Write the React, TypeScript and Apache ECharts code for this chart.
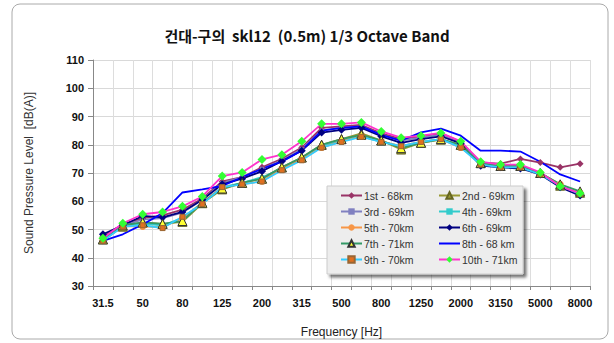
import React, { useEffect, useRef } from "react";
import * as echarts from "echarts";

const categories = ["31.5","40","50","63","80","100","125","160","200","250","315","400","500","630","800","1000","1250","1600","2000","2500","3150","4000","5000","6300","8000"];

const s1 = [47.5, 51.8, 54, 55, 57, 61, 67, 68.5, 72, 75, 79, 86, 86.5, 87, 84, 82, 83, 84, 81, 73.7, 73.3, 75, 73.7, 72, 73.3];
const s2 = [46.5, 51, 52.5, 52, 52.7, 59.3, 64.2, 66.5, 68, 72, 75.5, 80, 82, 84, 81.5, 78.3, 80.7, 81.8, 80, 73.5, 72.5, 72.5, 70, 65.5, 63];
const s3 = [47, 51.5, 53.5, 54, 56, 60.5, 66.5, 68.5, 71.5, 74.5, 78.5, 85, 86, 86.5, 83.5, 81.5, 82.5, 83.5, 80.8, 73.5, 72.8, 72.5, 70, 65.5, 62.5];
const s4 = [46.5, 51, 52, 51.5, 54, 59.5, 65, 66.5, 68.5, 71.5, 75, 79.5, 81.5, 83, 81, 79.5, 81, 82, 79.5, 73, 72.5, 72.5, 69.8, 65.5, 63];
const s5 = [46, 51.1, 51.1, 50.8, 54, 59.5, 65, 66, 67.1, 71.6, 75, 79, 81.2, 83, 81.2, 79.5, 81, 82, 79, 73.5, 72.5, 72.5, 70, 66, 63];
const s6 = [48.3, 51.5, 54.8, 54.3, 56.2, 60.5, 66, 68, 70.6, 74.2, 77.9, 84.3, 85.3, 86, 83, 80.7, 82, 83, 80.5, 72.6, 72, 71.6, 69.5, 65, 62];
const s7 = [46.5, 51.5, 52.5, 52, 53, 59.5, 64.5, 66.5, 68, 72, 75.5, 80, 82, 83.5, 81.5, 78.8, 80.7, 82, 80, 73.5, 72.5, 72.5, 70, 66, 63.5];
const s8 = [46, 48.3, 51.8, 55.8, 63.1, 64.2, 65.4, 68.5, 71.5, 74, 78, 85, 86, 86.5, 83.5, 81.5, 84.4, 85.7, 83.2, 77.9, 77.9, 77.6, 74, 69.5, 67];
const s9 = [46, 51, 51.5, 50.5, 54.5, 59, 65, 66, 67, 71, 74.5, 79, 81, 82.8, 81, 79.5, 81, 82, 79, 73, 72, 72, 69.5, 65.5, 62.5];
const s10 = [46.9, 52.2, 55.4, 56.2, 58.2, 61.7, 68.9, 70.2, 74.8, 76.5, 81.2, 87.4, 87.4, 87.9, 84.7, 82.5, 83.2, 84.2, 81.2, 74, 73, 73, 70.2, 65.3, 62.8];

const names = ["1st - 68km","2nd - 69km","3rd - 69km","4th - 69km","5th - 70km","6th - 69km","7th - 71km","8th - 68 km","9th - 70km","10th - 71km"];
const yTicks = { min: 30, max: 110, interval: 10 };

export default function App() {
  const ref = useRef<HTMLDivElement>(null);
  useEffect(() => {
    document.body.style.margin = "0";
    const chart = echarts.init(ref.current!, null, { renderer: "svg" });
    const mk = (name: string, data: number[], line: string, symbol: string, size: number, fill: string, border?: string) => ({
      name,
      type: "line",
      data,
      symbol,
      symbolSize: size,
      showSymbol: symbol !== "none",
      lineStyle: { color: line, width: 1.8 },
      itemStyle: { color: fill, borderColor: border || fill, borderWidth: border ? 1 : 0 },
      emphasis: { disabled: true },
    });
    const series = [
      mk(names[0], s1, "#993366", "diamond", 7, "#993366"),
      mk(names[1], s2, "#999933", "triangle", 9, "#999933", "#666622"),
      mk(names[2], s3, "#8080c0", "rect", 4, "#8080c0"),
      mk(names[3], s4, "#33cccc", "rect", 4, "#33cccc"),
      mk(names[4], s5, "#f79646", "circle", 7, "#f79646"),
      mk(names[5], s6, "#000080", "diamond", 8, "#000080"),
      mk(names[6], s7, "#339966", "triangle", 9, "#ffff33", "#333333"),
      mk(names[7], s8, "#0000ff", "none", 0, "#0000ff"),
      mk(names[8], s9, "#33ccff", "rect", 5, "#e07020", "#996633"),
      mk(names[9], s10, "#ff33cc", "diamond", 9, "#33ff33"),
    ];
    const legendBase = {
      orient: "vertical",
      top: 190,
      padding: 0,
      itemGap: 5,
      itemWidth: 21,
      itemHeight: 8,
      z: 10,
      textStyle: { fontSize: 10.5, color: "#333", fontFamily: "Liberation Sans, Arial", padding: [0, 0, 0, -3] },
    };
    chart.setOption({
      animation: false,
      backgroundColor: "#ffffff",
      title: {
        text: "건대-구의  skl12  (0.5m) 1/3 Octave Band",
        left: "center",
        top: 23,
        textStyle: { fontSize: 15, fontWeight: "bold", color: "#111", fontFamily: "Noto Sans CJK KR" },
      },
      grid: { left: 93, right: 24, top: 60, bottom: 56 },
      legend: [
        { ...legendBase, left: 340, data: [names[0], names[2], names[4], names[6], names[8]] },
        {
          ...legendBase,
          left: 438,
          data: [
            names[1],
            names[3],
            names[5],
            { name: names[7], itemStyle: { color: "rgba(0,0,0,0)", borderWidth: 0 } },
            names[9],
          ],
        },
      ],
      graphic: [
        {
          type: "rect",
          z: 5,
          shape: { x: 327, y: 186, width: 196, height: 88 },
          style: { fill: "#ededed", stroke: "#cccccc", lineWidth: 1, shadowBlur: 3, shadowOffsetX: 3, shadowOffsetY: 3, shadowColor: "rgba(0,0,0,0.55)" },
        },
        {
          type: "rect",
          z: 0,
          shape: { x: 12, y: 4, width: 596, height: 335, r: 8 },
          style: { fill: "none", stroke: "#aaaaaa", lineWidth: 1 },
        },
      ],
      xAxis: {
        type: "category",
        data: categories,
        boundaryGap: true,
        name: "Frequency [Hz]",
        nameLocation: "middle",
        nameGap: 40,
        nameTextStyle: { fontSize: 12, color: "#222", fontFamily: "Liberation Sans, Arial" },
        axisLine: { lineStyle: { color: "#888" } },
        axisTick: { show: true, interval: 0, length: 4, lineStyle: { color: "#888" } },
        axisLabel: { interval: 1, margin: 11, fontSize: 11, fontWeight: "bold", color: "#111", fontFamily: "Liberation Sans, Arial" },
        splitLine: { show: true, interval: 0, lineStyle: { color: "#dddddd" } },
      },
      yAxis: {
        type: "value",
        min: yTicks.min,
        max: yTicks.max,
        interval: yTicks.interval,
        name: "Sound Pressure Level  [dB(A)]",
        nameLocation: "middle",
        nameGap: 58,
        nameTextStyle: { fontSize: 12, color: "#333", fontFamily: "Liberation Sans, Arial" },
        axisLine: { show: true, lineStyle: { color: "#888" } },
        axisTick: { show: true, length: 5, lineStyle: { color: "#888" } },
        axisLabel: { margin: 9, fontSize: 11, fontWeight: "bold", color: "#111", fontFamily: "Liberation Sans, Arial" },
        splitLine: { show: true, lineStyle: { color: "#d9d9d9" } },
      },
      series,
    });
    return () => chart.dispose();
  }, []);
  return <div ref={ref} style={{ position: "absolute", left: 0, top: 0, width: 614, height: 343 }} />;
}
